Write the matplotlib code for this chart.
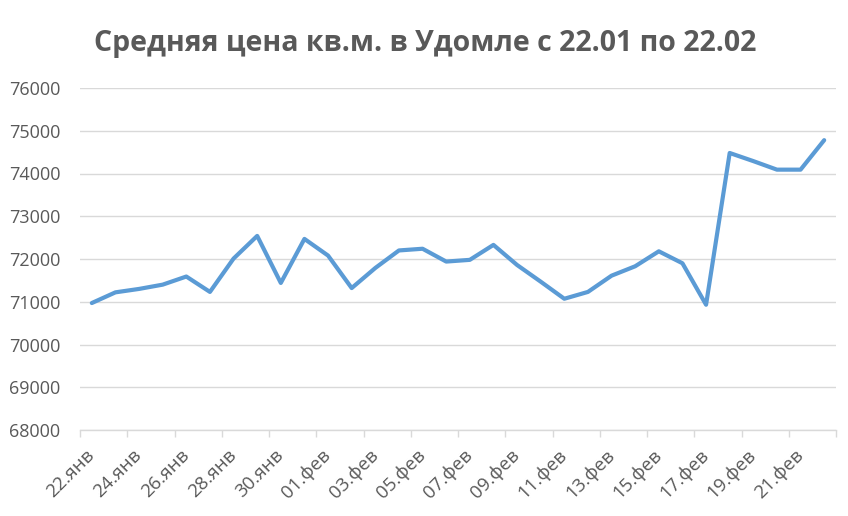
import matplotlib.pyplot as plt
import numpy as np

# one value per day, 22.01 .. 22.02
days = ['22.янв', '23.янв', '24.янв', '25.янв', '26.янв', '27.янв', '28.янв', '29.янв',
        '30.янв', '31.янв', '01.фев', '02.фев', '03.фев', '04.фев', '05.фев', '06.фев',
        '07.фев', '08.фев', '09.фев', '10.фев', '11.фев', '12.фев', '13.фев', '14.фев',
        '15.фев', '16.фев', '17.фев', '18.фев', '19.фев', '20.фев', '21.фев', '22.фев']
prices = [70970, 71220, 71300, 71400, 71590, 71230, 72010, 72540,
          71440, 72470, 72080, 71320, 71790, 72200, 72240, 71940,
          71980, 72330, 71860, 71470, 71070, 71230, 71610, 71830,
          72180, 71900, 70930, 74480, 74290, 74090, 74090, 74780]
y_ticks = [68000, 69000, 70000, 71000, 72000, 73000, 74000, 75000, 76000]

text_color = '#595959'
grid_color = '#D9D9D9'
line_color = '#5B9BD5'
plt.rcParams['font.family'] = ['Open Sans', 'DejaVu Sans']

fig = plt.figure(figsize=(8.48, 5.16), dpi=100)
ax = fig.add_axes([80/848, 1-430/516, 756/848, 342/516])

x = np.arange(len(days))
ax.plot(x, prices, color=line_color, linewidth=3, solid_capstyle='round', solid_joinstyle='round', zorder=3)

ax.set_xlim(-0.5, len(days) - 0.5)
ax.set_ylim(y_ticks[0], y_ticks[-1])
ax.set_yticks(y_ticks)
ax.set_yticklabels([str(v) for v in y_ticks], color=text_color, fontsize=13)
ax.tick_params(axis='y', length=0, pad=14)
ax.grid(axis='y', color=grid_color, linewidth=1)

# tick marks between every two days, labels on every second day
ax.set_xticks(np.arange(-0.5, len(days), 2))
ax.set_xticklabels([])
ax.tick_params(axis='x', which='major', length=5, color=grid_color, width=1)
ax.set_xticks(x[::2], minor=True)
ax.set_xticklabels(days[::2], minor=True, rotation=45, ha='right', va='center',
                   rotation_mode='anchor', color=text_color, fontsize=13.5)
ax.tick_params(axis='x', which='minor', length=0, pad=16)

for s in ['top', 'left', 'right']:
    ax.spines[s].set_visible(False)
ax.spines['bottom'].set_color(grid_color)
ax.spines['bottom'].set_linewidth(1)

fig.text(0.501, 1 - 51/516, 'Средняя цена кв.м. в Удомле с 22.01 по 22.02',
         ha='center', va='baseline', fontsize=20.5, fontweight='bold', color=text_color)

fig.savefig('out.png', dpi=100)
